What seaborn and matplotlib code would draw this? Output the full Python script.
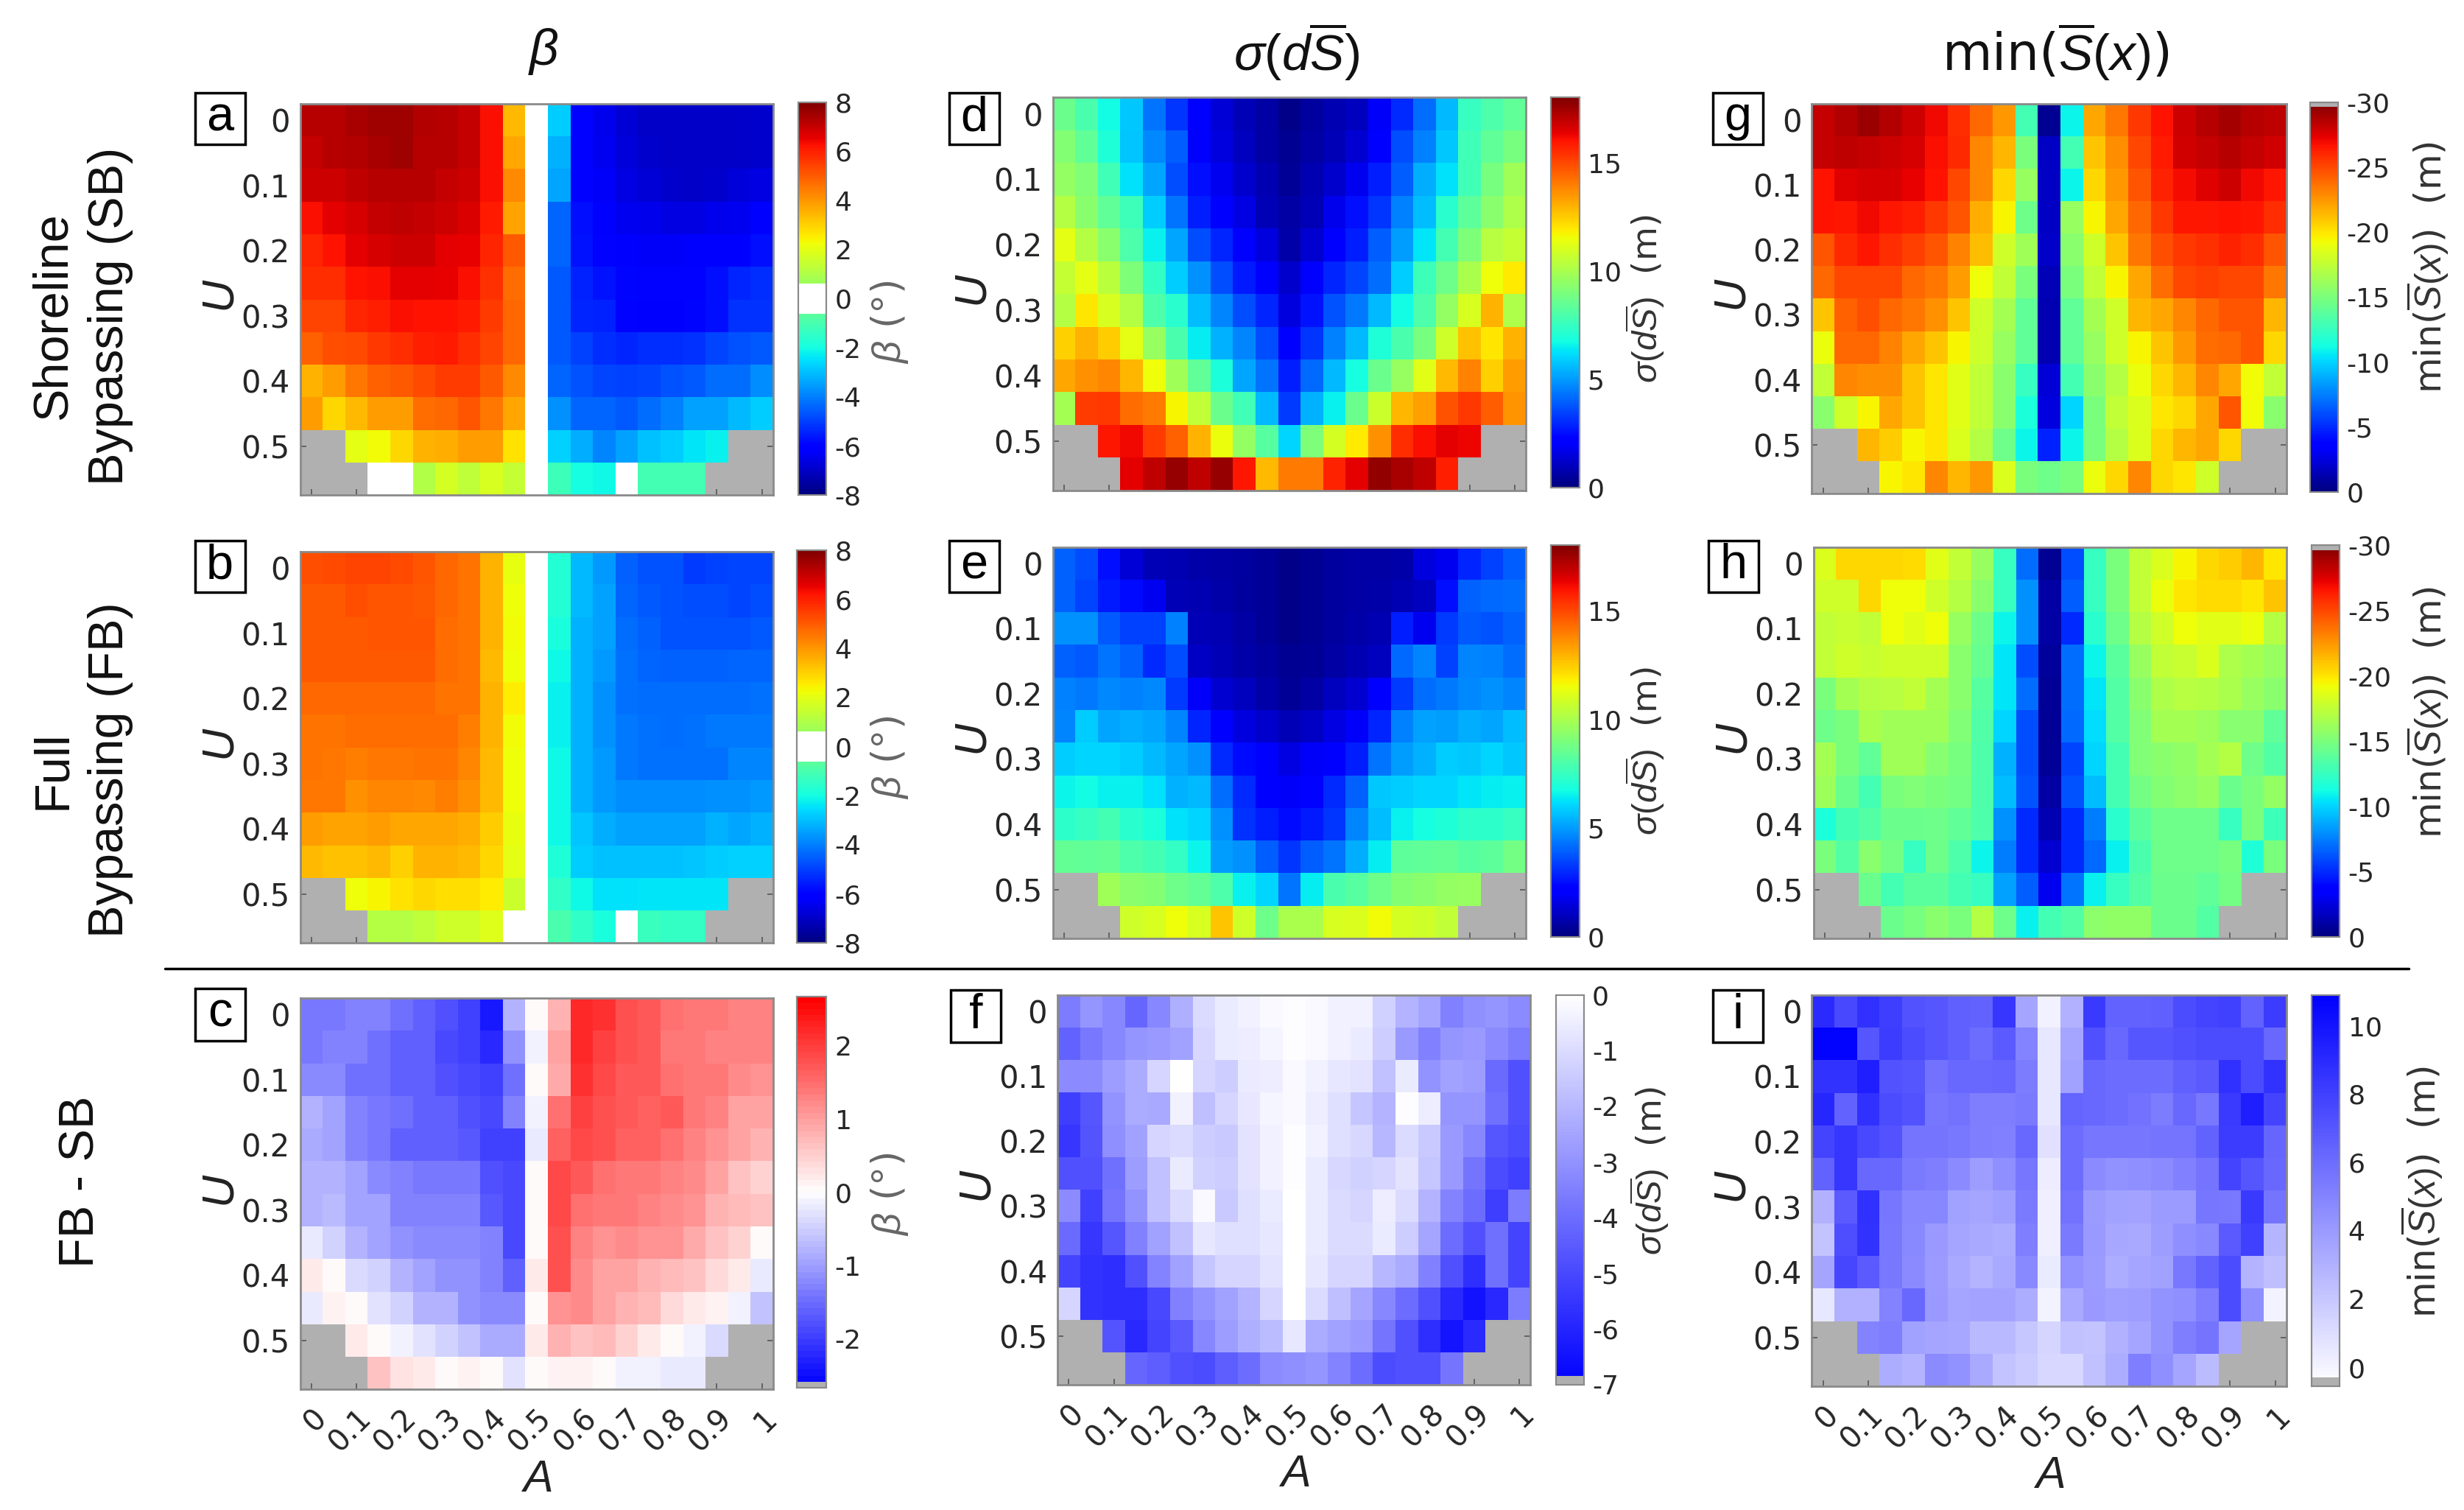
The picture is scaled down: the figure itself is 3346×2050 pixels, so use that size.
import matplotlib
matplotlib.use("Agg")
import matplotlib.pyplot as plt
import numpy as np
import seaborn as sns
from matplotlib.colors import LinearSegmentedColormap, ListedColormap
from matplotlib.patches import Rectangle

n = np.nan

A_labels = ["0", "0.1", "0.2", "0.3", "0.4", "0.5", "0.6", "0.7", "0.8", "0.9", "1"]
U_labels = ["0", "0.1", "0.2", "0.3", "0.4", "0.5"]

beta_sb = [
    [7.2,7.2,7.4,7.5,7.5,7.3,7.2,7.0,6.3,3.4,0,-2.8,-6.0,-6.5,-6.8,-7,-7,-7,-7,-7,-6.9],
    [7.0,7.2,7.3,7.4,7.5,7.2,7.2,7.0,6.3,3.7,0,-3.2,-6.0,-6.4,-6.7,-6.9,-7,-7,-7,-7,-6.9],
    [6.9,6.9,7.1,7.2,7.2,7.2,7.0,6.9,6.3,4.2,0,-3.4,-6.0,-6.3,-6.6,-6.8,-6.9,-7,-6.9,-6.7,-6.6],
    [6.3,6.6,6.8,7.0,7.1,7.0,6.9,6.7,6.1,3.8,0,-4.4,-5.8,-6.1,-6.4,-6.5,-6.6,-6.6,-6.5,-6.4,-6.2],
    [5.9,6.2,6.6,6.8,6.9,6.9,6.6,6.5,5.9,5.0,0,-4.4,-5.7,-6.0,-6.2,-6.3,-6.3,-6.2,-6.2,-6.1,-5.8],
    [5.8,5.8,6.2,6.3,6.6,6.6,6.5,6.3,5.7,4.7,0,-4.6,-5.5,-5.7,-5.9,-6.0,-6.0,-6.0,-5.8,-5.4,-5.3],
    [5.4,5.4,5.9,6.0,6.3,6.2,6.2,6.1,5.5,4.8,0,-4.6,-5.4,-5.5,-6.0,-6.1,-6.1,-5.9,-5.8,-5.2,-5.2],
    [4.9,5.2,5.3,5.6,5.8,6.0,6.1,5.8,5.4,4.8,0,-4.6,-5.0,-5.3,-5.4,-5.3,-5.3,-5.2,-4.9,-4.7,-4.6],
    [3.5,3.9,4.5,4.9,5.0,5.3,5.5,5.5,5.0,4.2,0,-4.4,-4.7,-4.9,-5.0,-4.9,-4.7,-4.6,-4.3,-4.3,-3.8],
    [3.9,2.9,3.4,3.9,3.9,4.7,4.8,5.1,4.5,3.7,0,-3.7,-4.4,-4.4,-4.6,-4.3,-4.0,-3.5,-3.5,-3.1,-2.8],
    [n,n,2.0,2.3,2.9,3.5,3.6,3.9,3.9,2.7,0,-2.7,-3.3,-3.9,-3.5,-3.0,-2.8,-2.4,-2.2,n,n],
    [n,n,n,0,0,1.0,1.7,1.3,1.8,1.4,0,-1.2,-2.0,-2.1,0,-1.1,-1.1,-1.1,n,n,n],
]
beta_fb = [
    [5.2,5.3,5.4,5.4,5.3,5.1,4.8,4.6,3.5,2.1,0,-1.7,-3.1,-3.6,-4.5,-4.7,-4.7,-5.1,-5.0,-4.9,-4.9],
    [5.0,5.0,5.2,5.1,5.1,5.0,4.8,4.6,3.5,2.2,0,-1.7,-3.1,-3.5,-4.4,-4.6,-4.7,-4.8,-4.8,-4.9,-4.8],
    [5.0,5.0,5.0,5.1,5.1,5.1,4.7,4.6,3.5,2.3,0,-1.9,-3.2,-3.5,-4.3,-4.5,-4.7,-4.7,-4.7,-4.7,-4.6],
    [5.0,5.0,5.0,5.0,5.0,5.0,4.7,4.6,3.4,2.2,0,-2.1,-3.2,-3.6,-4.2,-4.4,-4.5,-4.5,-4.5,-4.4,-4.4],
    [4.8,4.8,4.8,4.8,4.8,4.8,4.6,4.6,3.5,2.5,0,-2.2,-3.2,-3.7,-4.2,-4.3,-4.3,-4.3,-4.3,-4.3,-4.2],
    [4.6,4.6,4.7,4.7,4.7,4.7,4.7,4.4,3.5,2.3,0,-2.2,-3.2,-3.7,-4.1,-4.2,-4.3,-4.2,-4.1,-4.1,-4.1],
    [4.6,4.5,4.4,4.5,4.5,4.6,4.6,4.3,3.4,2.2,0,-2.1,-3.2,-3.6,-4.1,-4.2,-4.2,-4.2,-4.2,-3.9,-3.9],
    [4.5,4.5,4.1,4.3,4.3,4.2,4.4,4.1,3.4,2.2,0,-2.1,-3.2,-3.6,-3.8,-3.8,-3.8,-3.8,-3.7,-3.7,-3.6],
    [3.9,3.8,3.8,3.9,3.7,3.7,3.7,3.6,3.1,2.1,0,-2.1,-2.9,-3.3,-3.5,-3.5,-3.5,-3.5,-3.2,-3.4,-3.2],
    [3.4,3.3,3.3,3.4,3.0,3.5,3.5,3.4,2.9,2.0,0,-1.8,-2.8,-3.0,-3.0,-3.0,-3.0,-2.9,-2.8,-2.7,-2.7],
    [n,n,2.2,2.4,2.7,2.9,2.8,2.8,2.5,1.5,0,-1.5,-2.1,-2.5,-2.5,-2.4,-2.4,-2.4,-2.4,n,n],
    [n,n,n,1.1,1.1,1.3,1.6,1.6,1.9,0,0,-1.0,-1.5,-1.9,0,-1.3,-1.4,-1.4,n,n,n],
]
beta_diff = [
    [-1.4,-1.4,-1.3,-1.3,-1.5,-1.6,-1.8,-2.0,-2.4,-0.8,0,0.8,2.2,2.1,1.8,1.7,1.5,1.4,1.4,1.3,1.3],
    [-1.4,-1.3,-1.3,-1.5,-1.6,-1.6,-1.9,-2.0,-2.2,-1.1,-0.1,1.0,2.2,2.0,1.8,1.7,1.4,1.4,1.3,1.3,1.3],
    [-1.2,-1.2,-1.5,-1.5,-1.6,-1.6,-1.8,-1.9,-2.0,-1.5,0,0.9,2.1,1.9,1.7,1.7,1.5,1.4,1.4,1.2,1.1],
    [-0.8,-1.0,-1.3,-1.4,-1.5,-1.6,-1.6,-1.8,-1.9,-1.3,-0.1,1.5,2.0,1.8,1.7,1.6,1.7,1.4,1.3,1.0,1.0],
    [-0.9,-1.0,-1.3,-1.4,-1.6,-1.6,-1.6,-1.7,-2.0,-2.0,-0.2,1.6,1.9,1.8,1.6,1.6,1.5,1.3,1.1,1.0,0.8],
    [-0.8,-0.8,-1.0,-1.2,-1.3,-1.4,-1.4,-1.4,-1.8,-1.9,0,1.9,1.7,1.5,1.4,1.4,1.3,1.2,1.0,0.6,0.5],
    [-0.8,-0.7,-1.0,-1.0,-1.3,-1.3,-1.3,-1.3,-1.7,-1.9,0,1.9,1.5,1.4,1.4,1.3,1.2,1.1,0.8,0.7,0.6],
    [-0.2,-0.5,-0.8,-1.0,-1.1,-1.2,-1.2,-1.2,-1.3,-1.9,0.05,1.8,1.3,1.1,1.2,1.1,1.1,0.9,0.6,0.5,0.05],
    [0.2,0,-0.4,-0.5,-0.8,-1.0,-1.1,-1.1,-1.3,-1.6,0.2,1.8,1.2,1.0,1.0,0.8,0.7,0.6,0.4,0.2,-0.2],
    [-0.2,0.1,0,-0.3,-0.5,-0.8,-0.8,-1.1,-1.2,-1.2,0.05,1.1,1.2,1.0,0.8,0.7,0.4,0.2,0.1,-0.1,-0.6],
    [n,n,0.2,0.05,-0.1,-0.3,-0.5,-0.6,-0.9,-0.9,0.2,0.8,0.6,0.7,0.5,0.2,0.05,-0.1,-0.4,n,n],
    [n,n,n,0.6,0.3,0.2,0,0.15,0,-0.3,0,0.1,0.1,0,-0.1,-0.15,-0.25,-0.2,n,n,n],
]
sigma_sb = [
    [8.6,7.9,6.7,5.8,4.3,3.2,2.0,1.4,0.9,0.6,0.2,0.5,0.8,1.0,1.9,3.0,4.2,5.5,7.5,8.0,8.4],
    [9.2,8.4,7.0,5.7,4.7,3.9,2.2,1.5,1.0,0.6,0.3,0.6,0.9,1.3,2.0,3.6,4.5,5.8,7.7,8.4,8.9],
    [9.5,9.1,7.7,6.2,5.2,3.6,2.5,1.8,1.2,0.8,0.4,0.8,1.2,1.8,2.8,3.9,5.3,6.2,7.7,8.9,9.8],
    [10.2,9.3,8.4,7.6,5.9,4.3,2.8,2.2,1.6,0.9,0.6,0.9,1.7,2.5,3.2,4.5,5.6,7.2,8.3,9.3,10.1],
    [11.3,10.2,9.3,8.0,6.5,5.2,3.6,2.9,2.0,1.5,0.7,1.3,2.0,2.8,3.9,5.0,6.3,7.8,9.0,10.3,10.6],
    [10.6,11.3,10.4,9.0,7.4,5.9,4.8,3.6,2.7,2.0,1.2,2.0,2.9,3.5,4.2,5.9,7.6,8.7,10.0,11.5,11.9],
    [10.2,12.0,11.0,10.2,8.0,7.2,5.6,4.6,3.6,2.9,1.5,2.6,3.7,4.4,5.5,6.7,8.0,9.5,11.0,13.0,10.1],
    [12.4,13.0,12.5,11.3,9.6,7.9,6.4,5.4,4.6,3.6,2.1,3.2,4.5,5.5,7.0,7.9,8.9,10.8,12.7,12.0,13.0],
    [13.2,13.6,13.8,12.9,11.5,9.8,8.4,6.9,5.2,4.3,2.8,4.1,5.5,6.8,8.6,9.6,11.2,12.8,13.9,12.4,13.4],
    [9.9,15.2,15.3,14.3,14.0,11.7,10.5,8.6,7.7,5.5,3.3,5.4,6.5,8.6,10.7,12.9,13.3,14.8,15.3,14.6,13.5],
    [n,n,15.9,16.2,15.2,14.5,13.0,11.4,9.5,8.2,6.0,9.0,10.9,11.9,13.6,15.5,16.1,16.4,16.3,n,n],
    [n,n,n,16.4,17.0,17.6,17.0,17.6,15.9,12.8,14.0,14.0,15.7,16.4,17.7,17.3,17.0,15.8,n,n,n],
]
sigma_fb = [
    [4.0,3.6,2.5,1.4,0.9,0.8,0.7,0.6,0.5,0.4,0.2,0.3,0.5,0.6,0.6,0.7,1.5,1.8,2.9,3.4,3.9],
    [4.0,3.5,2.7,2.4,1.8,0.9,0.8,0.7,0.5,0.4,0.2,0.3,0.5,0.6,0.7,0.8,1.0,2.5,4.0,4.1,4.2],
    [4.8,4.8,3.8,3.4,3.4,4.5,0.9,0.8,0.6,0.4,0.2,0.3,0.5,0.7,0.8,2.8,1.8,3.3,3.8,3.7,4.0],
    [4.0,3.8,4.3,4.0,3.0,3.6,1.1,0.9,0.7,0.5,0.3,0.4,0.6,0.8,1.0,4.1,4.6,3.4,4.6,4.5,4.2],
    [4.5,4.4,4.7,4.5,4.7,3.3,1.9,1.3,1.0,0.7,0.4,0.6,1.0,1.3,2.0,3.3,4.2,4.4,4.7,4.8,4.6],
    [4.6,5.9,5.2,5.3,5.2,4.6,2.9,2.0,1.5,1.2,0.9,1.1,1.6,1.9,2.9,4.5,5.1,5.0,5.3,5.2,5.6],
    [5.9,6.0,6.0,5.9,5.5,5.2,4.8,3.0,2.4,2.0,1.6,1.9,2.1,2.8,4.3,5.0,5.4,5.9,5.8,6.0,5.8],
    [6.6,6.7,6.5,6.5,6.2,5.4,5.5,4.2,3.0,2.2,1.9,2.3,3.0,4.0,5.8,5.9,6.0,6.0,6.3,6.4,6.5],
    [7.3,7.5,7.8,7.2,6.9,6.2,6.0,4.8,3.1,2.8,2.4,2.7,3.2,4.6,5.6,6.5,6.8,7.0,7.3,7.3,7.5],
    [8.5,8.4,8.5,8.0,7.8,7.4,6.6,5.0,4.8,3.9,3.2,3.9,4.3,5.3,6.4,8.3,8.4,8.5,8.2,8.3,8.8],
    [n,n,9.8,9.3,9.2,8.7,8.5,8.0,6.5,6.0,4.3,6.4,7.9,8.2,8.7,9.2,9.3,9.5,9.6,n,n],
    [n,n,n,10.8,11.0,11.5,11.0,12.6,10.8,8.7,10.0,10.0,11.0,11.1,11.6,10.9,10.8,10.5,n,n,n],
]
sigma_diff = [
    [-3.6,-2.9,-3.3,-4.2,-3.3,-2.2,-1.0,-0.6,-0.4,-0.2,-0.1,-0.2,-0.4,-0.4,-1.3,-2.1,-2.5,-3.5,-3.1,-2.9,-3.2],
    [-4.3,-3.7,-3.3,-2.9,-2.8,-2.6,-1.1,-0.6,-0.5,-0.3,-0.1,-0.2,-0.4,-0.6,-1.4,-2.8,-3.5,-2.9,-2.8,-3.2,-3.6],
    [-3.2,-3.2,-2.7,-2.3,-1.2,0,-1.2,-1.4,-0.6,-0.5,-0.2,-0.4,-0.7,-0.8,-1.7,-0.6,-3.0,-2.6,-2.7,-4.1,-4.8],
    [-5.3,-4.6,-3.0,-2.3,-2.4,-0.4,-1.8,-1.2,-0.7,-0.3,-0.2,-0.5,-0.9,-1.6,-2.1,-0.1,-0.5,-2.9,-2.9,-3.9,-4.8],
    [-5.5,-4.7,-3.1,-2.6,-1.2,-1.0,-1.4,-1.5,-0.8,-0.4,-0.1,-0.4,-0.9,-1.1,-2.0,-1.0,-1.5,-2.8,-3.3,-4.6,-4.9],
    [-4.8,-4.8,-3.9,-2.7,-1.7,-0.6,-1.3,-1.4,-0.8,-0.4,-0.1,-0.6,-1.1,-1.3,-1.2,-0.8,-1.6,-2.8,-3.8,-4.9,-5.2],
    [-3.2,-5.2,-3.8,-3.0,-1.7,-1.0,-0.2,-1.5,-0.9,-0.6,0,-0.6,-1.0,-1.2,-0.5,-1.0,-2.1,-3.4,-4.0,-5.3,-3.6],
    [-4.1,-5.5,-4.6,-3.5,-2.6,-1.7,-0.7,-0.9,-0.9,-0.7,0,-0.6,-1.0,-1.0,-0.6,-1.4,-2.5,-4.0,-4.8,-3.9,-5.1],
    [-5.1,-5.6,-5.7,-4.8,-3.4,-2.6,-1.6,-1.2,-1.2,-0.8,0,-0.7,-1.2,-1.2,-2.0,-2.3,-3.5,-4.8,-5.7,-3.9,-5.1],
    [-1.2,-5.6,-5.7,-5.7,-5.0,-3.5,-3.0,-2.6,-2.1,-1.2,0,-1.0,-1.8,-2.5,-3.3,-4.0,-4.8,-5.9,-6.5,-5.9,-3.6],
    [n,n,-4.7,-5.9,-5.1,-4.5,-3.3,-2.7,-2.2,-1.9,-0.7,-2.3,-2.6,-2.8,-3.8,-4.8,-5.7,-6.4,-5.8,n,n],
    [n,n,n,-4.2,-4.4,-4.8,-4.9,-4.4,-4.0,-3.2,-3.1,-2.9,-3.4,-4.0,-4.9,-4.8,-4.8,-3.8,n,n,n],
]
mins_sb = [
    [-28.2,-28.6,-29.2,-28.6,-27.9,-27,-25.8,-24,-22.5,-13,-0.5,-11,-22,-23.5,-25.5,-26.7,-28,-28.5,-29,-28.5,-28.3],
    [-28.2,-28.3,-28.2,-28,-27.7,-26.8,-26,-23,-21.5,-15,-1.8,-13,-21,-22.8,-25,-26.4,-27.8,-28.2,-28.5,-28.2,-27.8],
    [-26.7,-27.5,-27.7,-27.7,-27.2,-26.7,-25,-23,-20.5,-16,-1.8,-11,-20.5,-22.5,-24.5,-26.2,-26.9,-27.5,-28,-27,-26.5],
    [-26.7,-26.5,-27,-26.6,-26.3,-25.5,-24.5,-21.7,-19.5,-14.5,-1.8,-16,-19.5,-22,-24,-25.5,-26.5,-26.6,-26.7,-26.5,-25.8],
    [-24.5,-26,-26.5,-25.8,-25.3,-24.6,-23.2,-21.3,-18,-16.3,-1.9,-15.5,-18,-21,-23.5,-24.8,-25.5,-25.7,-26.2,-25.8,-24.5],
    [-24,-25,-25,-25,-24,-23.5,-22.3,-19.2,-17.5,-15,-1.5,-15,-17.5,-19.5,-22,-23.8,-25,-25.2,-25,-25,-23.5],
    [-21,-24.2,-24.8,-24,-23.5,-22.7,-21,-18,-16.5,-14,-1.3,-14,-16.5,-18,-21.5,-22,-23,-24,-24.5,-24.5,-21.5],
    [-19,-24,-24,-23.2,-22,-21,-19.5,-18,-16,-14,-1.3,-14,-16,-18,-19.5,-21,-22.5,-23.8,-24,-24.5,-20.5],
    [-17.5,-23,-22.8,-22.8,-21,-20,-18.7,-17.5,-15.5,-12.5,-2.3,-13,-15.5,-17,-19,-20.5,-21.5,-23,-22,-19.3,-17.5],
    [-15.5,-18,-19.5,-22,-21,-20,-18.7,-17.5,-15.5,-11.5,-2.5,-10,-15,-17.5,-18.5,-20,-20.5,-22,-24.5,-19.3,-15.5],
    [n,n,-21.5,-20.8,-19.5,-20,-18.5,-17,-14.5,-11,-4.8,-11,-15,-17,-18.5,-20.5,-21.5,-22,-20.5,n,n],
    [n,n,n,-19.5,-20,-23,-21.5,-22.5,-18.5,-15,-14.5,-15,-19,-20.5,-23,-20.5,-20,-18,n,n,n],
]
mins_fb = [
    [-18.5,-20.5,-20.5,-20.5,-20.3,-18.7,-17.5,-16,-12.5,-7,-0.5,-6,-12.5,-15,-17.5,-18.5,-19.5,-20.5,-20.8,-21.5,-20],
    [-18,-18,-20.5,-19.2,-19.2,-18,-17,-15.5,-12.5,-8,-1,-6.5,-12.5,-15,-17.5,-19,-20,-20.3,-20.3,-20,-21],
    [-17.5,-17.7,-17.5,-19.2,-18.7,-19.2,-16,-14.5,-11,-8,-1,-5,-12,-14.5,-17,-18,-19.2,-18.7,-18.7,-19,-17],
    [-17.5,-18,-17.7,-18,-18,-18,-15.5,-14.2,-10.5,-6,-0.8,-7,-11,-13.8,-16,-17.5,-17.8,-18.5,-16.8,-16.5,-16],
    [-15,-16.5,-17,-17.2,-17.5,-16.5,-15.5,-13.7,-10.5,-7,-0.7,-7,-10.5,-13.5,-15.5,-16.8,-17.2,-17,-16.7,-16,-15.5],
    [-14.5,-15,-16.7,-16.4,-16.4,-16.4,-15.2,-13.4,-10,-6,-0.7,-6.8,-10.2,-13.5,-15.2,-16.5,-16.5,-16.2,-15.4,-15.5,-14],
    [-16.5,-15,-14,-16.3,-16.3,-15.4,-14.8,-13.3,-9,-6,-0.7,-5.8,-10,-13,-15.2,-15.5,-15.8,-16.5,-17,-14.5,-13.5],
    [-16.2,-14.3,-13,-15,-15.2,-15,-14.7,-13.3,-9.3,-6.3,-1,-6.2,-9.3,-13,-14.7,-15.3,-15.6,-16,-14.3,-15,-15.9],
    [-11.5,-13,-13.5,-14.3,-14.3,-14.5,-14,-13.3,-8,-5,-1.3,-5,-7.5,-12,-13.8,-14.5,-14.5,-14.5,-12.5,-15,-12.7],
    [-15,-13.5,-15.5,-14.7,-12.5,-14.5,-13.3,-11,-7.5,-5,-2.2,-5,-6.8,-10.8,-13.2,-14.5,-14.5,-14.5,-14.8,-11.7,-15],
    [n,n,-14.3,-13,-13.8,-13.8,-13,-12.5,-8.5,-6.5,-3,-7.2,-10.8,-12.5,-13.5,-14.3,-14.3,-14,-14.7,n,n],
    [n,n,n,-14.3,-14.8,-15.5,-15,-17,-14.5,-10.8,-13,-13.5,-15.7,-15.8,-15.8,-14.4,-14.3,-13.5,n,n,n],
]
mins_diff = [
    [9.0,7.6,8.7,8.1,7.2,7.0,6.6,6.5,8.4,3.5,0.1,3.0,8.3,6.5,6.5,6.6,7.5,7.8,8.0,6.5,8.2],
    [10.8,10.8,7.0,8.2,7.5,7.0,6.6,6.0,6.8,5.0,0.6,3.5,7.3,6.2,7,7,7.3,7.5,7.5,7.5,6.2],
    [8.6,8.6,9.5,7.2,7.0,5.8,6.2,6.2,6.3,5.3,0.6,3.7,6.2,6,6,6,6.6,6.8,8.7,7.5,8.6],
    [9.2,6.5,8.7,7.5,7.2,5.6,5.8,5.2,5.2,5.4,0.6,6.4,6.2,6.0,5.8,5.3,6.2,5.5,8.3,9.5,7.8],
    [7.8,8.4,7.6,7.2,5.7,5.7,5.5,5.2,5.1,6.2,0.8,6.0,5.6,5.6,5.6,5.7,5.7,6.5,8.2,8.2,6.3],
    [6.5,8.4,6.2,6.2,5.4,5.2,4.7,3.9,4.5,5.6,0.3,6.0,4.7,4.4,4.5,4.7,5.1,5.7,7.8,7,6.2],
    [3.0,6.8,8.7,5.6,4.9,4.9,3.7,3.5,3.8,5.4,0.2,5.8,4,3.7,3.6,4,4,5.6,5.5,8.3,5.7],
    [2.2,7.4,8.6,5.5,4.8,4.1,3.5,3.3,3.2,5.2,0.2,5.4,4.1,3.4,3.3,3.9,4.5,4.8,6.8,8,2.8],
    [3.5,7.7,6.8,5.5,4.7,4.0,3.3,2.9,3.3,4.8,0.4,4.4,4,3.2,3.5,3.7,5.5,6.5,7.5,2.9,2.4],
    [0.6,3.0,3.0,5.0,6.2,4.1,3.5,3.6,3.6,3.2,0.0,3.3,4.1,3.8,3.9,4.3,4.5,5.2,7.5,4.5,0.0],
    [n,n,5.0,5.2,3.7,3.5,3.4,2.6,2.6,2.0,1.4,2.3,2.2,3,3.5,4.3,5.2,5.7,3.5,n,n],
    [n,n,n,3.2,2.9,4.7,4.4,3.3,2.2,1.8,1.3,1.3,2.3,3.2,5.2,4.5,3.5,2.5,n,n,n],
]

sns.set_theme(style="white")
plt.rcParams["font.family"] = ["DejaVu Sans"]
plt.rcParams["axes.unicode_minus"] = False
plt.rcParams["mathtext.fontset"] = "custom"
plt.rcParams["mathtext.rm"] = "Liberation Sans"
plt.rcParams["mathtext.it"] = "Liberation Sans:italic"

GRAY = "#b0b0b0"
W, H = 3346, 2050
S = W / 1568


def rect(l, t, r, b):
    # positions read on the 1568 px wide view of the reference
    return [l * S / W, 1 - b * S / H, (r - l) * S / W, (b - t) * S / H]


def fx(x):
    return x * S / W


def fy(y):
    return 1 - y * S / H


def with_gray(colors, k):
    colors = np.array(colors)
    colors[:k] = matplotlib.colors.to_rgba(GRAY)
    return ListedColormap(colors)


jet = plt.get_cmap("jet")(np.linspace(0, 1, 256))
jet_beta = jet.copy()
jet_beta[np.abs(np.linspace(-8, 8, 256)) < 0.63] = (1, 1, 1, 1)
cmap_beta = ListedColormap(jet_beta)
cmap_sigma = ListedColormap(jet)
cmap_mins = with_gray(jet[::-1], 3)
bwr = LinearSegmentedColormap.from_list("b", ["#0000ff", "#ffffff", "#ff0000"])(np.linspace(0, 1, 64))
cmap_bdiff = with_gray(bwr, 1)
cmap_sdiff = with_gray(LinearSegmentedColormap.from_list("s", ["#0000ff", "#ffffff"])(np.linspace(0, 1, 128)), 3)
cmap_mdiff = with_gray(LinearSegmentedColormap.from_list("m", ["#ffffff", "#0000ff"])(np.linspace(0, 1, 128)), 3)

lab_beta = r"$\beta$ (°)"
lab_sigma = r"$\sigma(d\overline{S})$  (m)"
lab_mins = r"min($\overline{S}(x)$)  (m)"
lab_size = {lab_beta: 38, lab_sigma: 34, lab_mins: 36}

t_beta = list(range(-8, 9, 2))
t_sig = [0, 5, 10, 15]
t_min = [-30, -25, -20, -15, -10, -5, 0]

# name, data, cmap, vmin, vmax, cbar ticks, cbar label, axes box, cbar box, letter box, cbar label x, cbar label y
panels = [
    ("a", beta_sb, cmap_beta, -8, 8, t_beta, lab_beta, (191, 66, 492, 315), (508, 65, 526, 315), (124, 59), 566, 205),
    ("b", beta_fb, cmap_beta, -8, 8, t_beta, lab_beta, (191, 351, 492, 600), (507, 350, 526, 600), (124, 344), 566, 482),
    ("c", beta_diff, cmap_bdiff, -2.67, 2.67, [-2, -1, 0, 1, 2], lab_beta, (191, 635, 492, 884), (507, 634, 526, 883), (124, 629), 566, 760),
    ("d", sigma_sb, cmap_sigma, 0, 18, t_sig, lab_sigma, (670, 62, 971, 312), (987, 62, 1005, 310), (604, 59), 1047, 190),
    ("e", sigma_fb, cmap_sigma, 0, 18, t_sig, lab_sigma, (670, 348, 971, 597), (987, 347, 1005, 596), (604, 344), 1047, 478),
    ("f", sigma_diff, cmap_sdiff, -7, 0, [-7, -6, -5, -4, -3, -2, -1, 0], lab_sigma, (673, 633, 974, 881), (990, 633, 1008, 881), (605, 630), 1050, 745),
    ("g", mins_sb, cmap_mins, -30, 0, t_min, lab_mins, (1153, 66, 1455, 314), (1470, 65, 1488, 313), (1090, 59), 1545, 170),
    ("h", mins_fb, cmap_mins, -30, 0, t_min, lab_mins, (1154, 348, 1455, 597), (1471, 347, 1489, 596), (1087, 344), 1545, 453),
    ("i", mins_diff, cmap_mdiff, -0.55, 10.9, [0, 2, 4, 6, 8, 10], lab_mins, (1153, 633, 1455, 882), (1471, 633, 1489, 882), (1090, 630), 1541, 758),
]

fig = plt.figure(figsize=(W / 100, H / 100), dpi=100, facecolor="white")

for name, data, cmap, vmin, vmax, ticks, label, box, cbox, letter, lx, ly in panels:
    ax = fig.add_axes(rect(*box))
    cax = fig.add_axes(rect(*cbox))
    sns.heatmap(np.array(data), ax=ax, cbar_ax=cax, cmap=cmap, vmin=vmin, vmax=vmax,
                square=False, xticklabels=False, yticklabels=False,
                cbar_kws={"ticks": ticks})
    ax.set_facecolor(GRAY)
    ax.set_xticks(np.arange(0, 21, 2) + 0.5)
    ax.set_yticks(np.arange(0, 11, 2) + 0.5)
    ax.set_yticklabels(U_labels, fontsize=30, color="#262626")
    bottom = name in "cfi"
    if bottom:
        ax.set_xticklabels(A_labels, fontsize=29, color="#262626", rotation=45,
                           ha="right", va="top", rotation_mode="anchor")
        ax.tick_params(axis="x", pad=14)
    else:
        ax.set_xticklabels([])
    ax.tick_params(axis="both", which="major", direction="in", length=6, width=1.2,
                   color="#555555", top=True, right=True, bottom=True, left=True)
    ax.tick_params(axis="y", pad=10)
    for sp in ax.spines.values():
        sp.set_visible(True)
        sp.set_color("#8a8a8a")
        sp.set_linewidth(2)

    cax.tick_params(axis="y", direction="in", length=5, width=1.2, color="#555555",
                    labelsize=26, labelcolor="#262626", pad=8, right=True)
    if vmin == -30:
        cax.invert_yaxis()
    for sp in cax.spines.values():
        sp.set_visible(True)
        sp.set_color("#8a8a8a")
        sp.set_linewidth(1.5)

    fig.text(fx(lx), fy(ly), label, rotation=90, ha="center", va="center", fontsize=lab_size[label],
             color="#666666" if label == lab_beta else "#333333", family="DejaVu Sans")

    # U label, A label, panel letter
    mid = (box[1] + box[3]) / 2
    fig.text(fx(box[0] - 50), fy(mid - 2), r"$U$", rotation=90, ha="center", va="center", fontsize=44, color="#222222")
    if bottom:
        fig.text(fx((box[0] + box[2]) / 2), fy(box[3] + 57), r"$A$", ha="center", va="center", fontsize=44, color="#222222")

    fig.add_artist(Rectangle((fx(letter[0]), fy(letter[1] + 33)), 32 * S / W, 33 * S / H,
                             transform=fig.transFigure, fc="white", ec="black", lw=2.5))
    fig.text(fx(letter[0] + 16), fy(letter[1] + 16), name, ha="center", va="center",
             fontsize=48, family="Liberation Sans", color="black")

for x, s in [(346, r"$\beta$"), (825, r"$\sigma(d\overline{S})$"), (1308, r"min($\overline{S}(x)$)")]:
    fig.text(fx(x), fy(33), s, ha="center", va="center", fontsize=50, color="#111111")

for y, s in [(201, "Shoreline\nBypassing (SB)"), (490, "Full\nBypassing (FB)"), (752, "FB - SB")]:
    fig.text(fx(52), fy(y), s, rotation=90, ha="center", va="center", fontsize=48,
             family="Liberation Sans", color="#111111", linespacing=1.32, multialignment="center")

fig.add_artist(plt.Line2D([fx(105), fx(1533)], [fy(616), fy(616)], color="black", lw=2.5))

fig.savefig("out.png", dpi=100, facecolor="white")
